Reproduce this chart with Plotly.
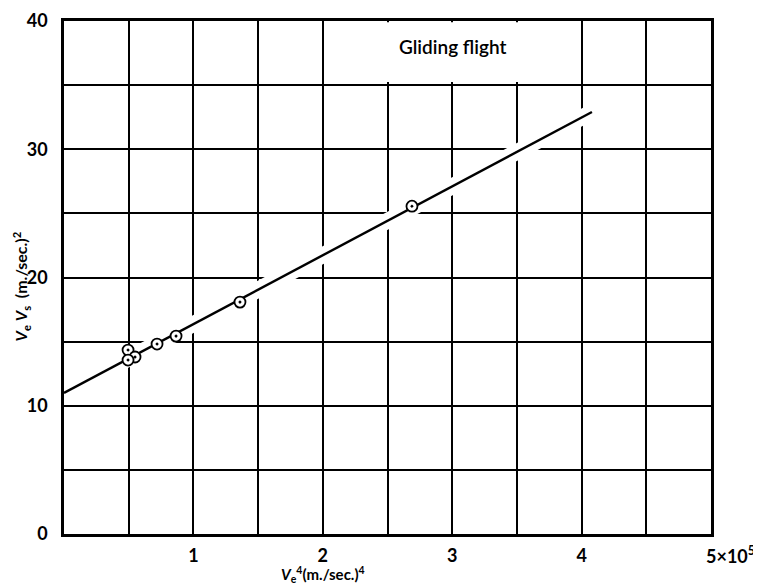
import plotly.graph_objects as go

# data (x in units of 1e5 (m/s)^4, y in (m/s)^2)
pts_x = [0.495, 0.549, 0.495, 0.719, 0.866, 1.360, 2.689]
pts_y = [14.34, 13.80, 13.56, 14.81, 15.43, 18.08, 25.56]
fit_x = [0.0, 4.08]
fit_y = [11.0, 32.9]

x_grid = [0.5, 1, 1.5, 2, 2.5, 3, 3.5, 4, 4.5, 5]
x_text = ["", "1", "", "2", "", "3", "", "4", "", ""]
y_grid = [0, 5, 10, 15, 20, 25, 30, 35, 40]
y_text = ["0", "", "10", "", "20", "", "30", "", "40"]

FONT = "Lato"

fig = go.Figure()
# white underlay -> gaps in gridlines around the fitted line
fig.add_trace(go.Scatter(x=fit_x, y=fit_y, mode="lines",
                         line=dict(color="white", width=16), hoverinfo="skip"))
fig.add_trace(go.Scatter(x=fit_x, y=fit_y, mode="lines",
                         line=dict(color="black", width=2.4), hoverinfo="skip"))
fig.add_trace(go.Scatter(x=pts_x, y=pts_y, mode="markers",
                         marker=dict(symbol="circle-dot", size=11, color="white",
                                     line=dict(color="black", width=1.8))))

# blank box for the label (top row, x 2..4)
fig.add_shape(type="rect", x0=2.03, x1=3.97, y0=35.25, y1=39.9, layer="between",
              fillcolor="white", line=dict(width=0))

fig.add_annotation(x=3, y=38.0, text="Gliding flight", showarrow=False,
                   font=dict(family=FONT, size=19, color="black", weight=600))
fig.add_annotation(x=5, y=0, text="5×10<sup>5</sup>", showarrow=False,
                   xanchor="left", yanchor="top", xshift=-7, yshift=-7,
                   font=dict(family=FONT, size=18, color="black", weight="bold"))
fig.add_annotation(x=2, y=0, yref="y", text="<i>V</i><sub>e</sub><sup>4</sup>(m./sec.)<sup>4</sup>",
                   showarrow=False, yanchor="middle", yshift=-40,
                   font=dict(family=FONT, size=15, color="black", weight="bold"))
fig.add_annotation(x=0, xref="paper", y=19.3, yref="y", xshift=-43, xanchor="center",
                   yanchor="middle",
                   text="<i>V</i><sub>e</sub> <i>V</i><sub>s</sub>  (m./sec.)<sup>2</sup>",
                   textangle=-90, showarrow=False,
                   font=dict(family=FONT, size=16, color="black", weight="bold"))

fig.update_xaxes(range=[0, 5], tickmode="array", tickvals=x_grid, ticktext=x_text,
                 showgrid=True, gridcolor="black", gridwidth=2,
                 showline=True, linecolor="black", linewidth=2.5, mirror=True,
                 zeroline=False, ticks="", ticklabelstandoff=4, automargin=False,
                 tickfont=dict(family=FONT, size=18, color="black", weight="bold"))
fig.update_yaxes(range=[0, 40], tickmode="array", tickvals=y_grid, ticktext=y_text,
                 showgrid=True, gridcolor="black", gridwidth=2,
                 showline=True, linecolor="black", linewidth=2.5, mirror=True,
                 zeroline=False, ticks="", ticklabelstandoff=10, automargin=False,
                 tickfont=dict(family=FONT, size=18, color="black", weight="bold"))

fig.update_layout(width=753, height=578, showlegend=False,
                  plot_bgcolor="white", paper_bgcolor="white",
                  margin=dict(l=56, r=50, t=13, b=52))

fig.write_html("out.html")
